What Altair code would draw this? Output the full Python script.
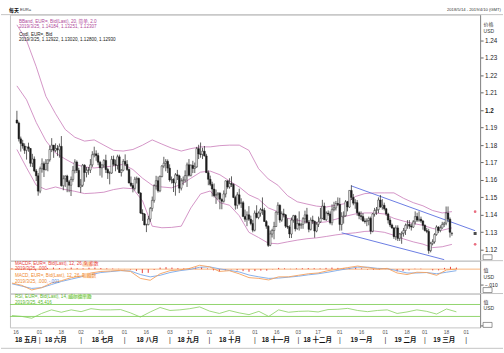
import altair as alt
import pandas as pd

FONT = "Liberation Sans, Noto Sans CJK SC, sans-serif"
W = 472
H_MAIN, H_MACD, H_RSI = 247, 33, 34
PAD_L, PAD_T, PAD_R, PAD_B = 9, 13, 23, 26

X_DOMAIN = [-1.01, 237.0]
MAIN_DOMAIN = [1.113714, 1.254857]
MACD_DOMAIN = [-0.015806, 0.005484]
RSI_DOMAIN = [-6.67, 106.67]

PINK = "#c97bb8"
PINK_TXT = "#b0479a"
CANDLE = "#1c1c1c"
CHAN = "#5b6fe0"
ORANGE = "#f5a15d"
SIGBLUE = "#7aa8e8"
RED = "#e8413c"
GREEN = "#86d05e"
GREEN_TXT = "#5cb82a"
FRAME = "#c4c4c4"

# ---------------- daily candles (business-day index from 2018-05-14) ----------------
opens = [1.1944, 1.1927, 1.1836, 1.1810, 1.1795, 1.1770, 1.1790, 1.1781, 1.1696, 1.1720,
         1.1652, 1.1624, 1.1536, 1.1665, 1.1693, 1.1659, 1.1695, 1.1716, 1.1775, 1.1800,
         1.1770, 1.1781, 1.1773, 1.1793, 1.1567, 1.1607, 1.1623, 1.1590, 1.1570, 1.1603,
         1.1655, 1.1703, 1.1655, 1.1560, 1.1570, 1.1685, 1.1643, 1.1656, 1.1657, 1.1687,
         1.1745, 1.1750, 1.1740, 1.1702, 1.1670, 1.1686, 1.1712, 1.1660, 1.1640, 1.1640,
         1.1718, 1.1690, 1.1684, 1.1733, 1.1643, 1.1656, 1.1707, 1.1690, 1.1660, 1.1583,
         1.1568, 1.1552, 1.1604, 1.1609, 1.1525, 1.1410, 1.1405, 1.1342, 1.1344, 1.1376,
         1.1437, 1.1483, 1.1567, 1.1596, 1.1538, 1.1620, 1.1680, 1.1696, 1.1707, 1.1668,
         1.1600, 1.1603, 1.1583, 1.1630, 1.1624, 1.1553, 1.1595, 1.1600, 1.1625, 1.1687,
         1.1627, 1.1684, 1.1666, 1.1675, 1.1780, 1.1749, 1.1747, 1.1765, 1.1738, 1.1642,
         1.1604, 1.1575, 1.1548, 1.1510, 1.1516, 1.1524, 1.1488, 1.1478, 1.1520, 1.1595,
         1.1560, 1.1580, 1.1575, 1.1500, 1.1455, 1.1515, 1.1465, 1.1470, 1.1390, 1.1375,
         1.1400, 1.1375, 1.1350, 1.1312, 1.1410, 1.1385, 1.1410, 1.1430, 1.1425, 1.1362,
         1.1335, 1.1225, 1.1290, 1.1310, 1.1333, 1.1415, 1.1455, 1.1370, 1.1406, 1.1400,
         1.1335, 1.1330, 1.1290, 1.1370, 1.1395, 1.1320, 1.1350, 1.1340, 1.1345, 1.1378,
         1.1400, 1.1357, 1.1317, 1.1370, 1.1363, 1.1307, 1.1346, 1.1360, 1.1380, 1.1450,
         1.1372, 1.1410, 1.1405, 1.1355, 1.1430, 1.1440, 1.1465, 1.1460, 1.1345, 1.1390,
         1.1395, 1.1475, 1.1445, 1.1540, 1.1500, 1.1467, 1.1470, 1.1412, 1.1395, 1.1390,
         1.1365, 1.1362, 1.1368, 1.1380, 1.1306, 1.1405, 1.1425, 1.1430, 1.1485, 1.1445,
         1.1455, 1.1435, 1.1405, 1.1370, 1.1342, 1.1325, 1.1275, 1.1325, 1.1265, 1.1290,
         1.1295, 1.1310, 1.1340, 1.1345, 1.1335, 1.1330, 1.1360, 1.1390, 1.1370, 1.1375,
         1.1365, 1.1340, 1.1310, 1.1305, 1.1195, 1.1235, 1.1245, 1.1287, 1.1330, 1.1310,
         1.1325, 1.1345, 1.1352, 1.1410, 1.1375, 1.12922]
highs = [1.1997, 1.1935, 1.1849, 1.1830, 1.1810, 1.1790, 1.1814, 1.1783, 1.1750, 1.1735,
         1.1663, 1.1640, 1.1677, 1.1724, 1.1706, 1.1720, 1.1716, 1.1797, 1.1840, 1.1800,
         1.1810, 1.1800, 1.1809, 1.1852, 1.1627, 1.1626, 1.1630, 1.1600, 1.1620, 1.1680,
         1.1719, 1.1712, 1.1670, 1.1605, 1.1692, 1.1690, 1.1674, 1.1674, 1.1720, 1.1765,
         1.1791, 1.1770, 1.1756, 1.1710, 1.1690, 1.1720, 1.1745, 1.1670, 1.1650, 1.1738,
         1.1740, 1.1717, 1.1745, 1.1745, 1.1662, 1.1720, 1.1747, 1.1714, 1.1665, 1.1620,
         1.1582, 1.1618, 1.1620, 1.1614, 1.1530, 1.1432, 1.1410, 1.1349, 1.1394, 1.1445,
         1.1505, 1.1575, 1.1624, 1.1620, 1.1626, 1.1685, 1.1733, 1.1720, 1.1718, 1.1690,
         1.1620, 1.1610, 1.1640, 1.1658, 1.1630, 1.1610, 1.1620, 1.1655, 1.1700, 1.1720,
         1.1690, 1.1710, 1.1700, 1.1790, 1.1802, 1.1815, 1.1785, 1.1795, 1.1750, 1.1655,
         1.1625, 1.1590, 1.1580, 1.1545, 1.1530, 1.1530, 1.1495, 1.1540, 1.1598, 1.1598,
         1.1610, 1.1621, 1.1580, 1.1510, 1.1530, 1.1550, 1.1495, 1.1480, 1.1430, 1.1420,
         1.1450, 1.1395, 1.1370, 1.1425, 1.1455, 1.1420, 1.1440, 1.1500, 1.1440, 1.1370,
         1.1340, 1.1310, 1.1320, 1.1360, 1.1420, 1.1472, 1.1460, 1.1420, 1.1435, 1.1405,
         1.1380, 1.1340, 1.1385, 1.1400, 1.1400, 1.1380, 1.1420, 1.1355, 1.1387, 1.1424,
         1.1440, 1.1370, 1.1385, 1.1395, 1.1367, 1.1360, 1.1390, 1.1440, 1.1486, 1.1470,
         1.1420, 1.1425, 1.1420, 1.1460, 1.1475, 1.1480, 1.1500, 1.1498, 1.1415, 1.1420,
         1.1485, 1.1480, 1.1540, 1.1570, 1.1520, 1.1490, 1.1485, 1.1420, 1.1420, 1.1410,
         1.1380, 1.1380, 1.1390, 1.1390, 1.1410, 1.1440, 1.1445, 1.1500, 1.1514, 1.1490,
         1.1470, 1.1440, 1.1412, 1.1385, 1.1350, 1.1330, 1.1340, 1.1340, 1.1295, 1.1305,
         1.1325, 1.1350, 1.1370, 1.1370, 1.1350, 1.1370, 1.1420, 1.1412, 1.1420, 1.1390,
         1.1370, 1.1345, 1.1325, 1.1320, 1.1245, 1.1260, 1.1295, 1.1340, 1.1335, 1.1340,
         1.1360, 1.1360, 1.1448, 1.1448, 1.1385, 1.13020]
lows = [1.1924, 1.1821, 1.1763, 1.1780, 1.1750, 1.1717, 1.1762, 1.1676, 1.1674, 1.1645,
        1.1594, 1.1510, 1.1524, 1.1642, 1.1617, 1.1655, 1.1650, 1.1705, 1.1760, 1.1727,
        1.1760, 1.1737, 1.1728, 1.1562, 1.1541, 1.1560, 1.1530, 1.1530, 1.1508, 1.1590,
        1.1638, 1.1640, 1.1560, 1.1527, 1.1560, 1.1590, 1.1615, 1.1630, 1.1640, 1.1675,
        1.1730, 1.1710, 1.1685, 1.1625, 1.1614, 1.1670, 1.1640, 1.1606, 1.1575, 1.1635,
        1.1680, 1.1650, 1.1660, 1.1640, 1.1620, 1.1650, 1.1680, 1.1652, 1.1580, 1.1560,
        1.1529, 1.1540, 1.1580, 1.1520, 1.1406, 1.1365, 1.1340, 1.1301, 1.1340, 1.1360,
        1.1420, 1.1470, 1.1545, 1.1528, 1.1530, 1.1615, 1.1668, 1.1650, 1.1640, 1.1590,
        1.1580, 1.1531, 1.1510, 1.1600, 1.1525, 1.1540, 1.1570, 1.1585, 1.1560, 1.1620,
        1.1620, 1.1640, 1.1640, 1.1670, 1.1720, 1.1728, 1.1720, 1.1735, 1.1640, 1.1570,
        1.1565, 1.1505, 1.1500, 1.1463, 1.1487, 1.1432, 1.1432, 1.1470, 1.1500, 1.1550,
        1.1550, 1.1560, 1.1496, 1.1430, 1.1435, 1.1455, 1.1440, 1.1390, 1.1360, 1.1335,
        1.1365, 1.1340, 1.1300, 1.1305, 1.1380, 1.1375, 1.1390, 1.1400, 1.1360, 1.1320,
        1.1216, 1.1220, 1.1270, 1.1260, 1.1330, 1.1400, 1.1355, 1.1360, 1.1385, 1.1325,
        1.1320, 1.1267, 1.1267, 1.1355, 1.1305, 1.1315, 1.1310, 1.1320, 1.1320, 1.1350,
        1.1350, 1.1300, 1.1310, 1.1347, 1.1269, 1.1300, 1.1330, 1.1355, 1.1375, 1.1370,
        1.1365, 1.1395, 1.1345, 1.1340, 1.1420, 1.1425, 1.1450, 1.1309, 1.1310, 1.1350,
        1.1390, 1.1420, 1.1440, 1.1485, 1.1455, 1.1435, 1.1395, 1.1375, 1.1370, 1.1360,
        1.1350, 1.1335, 1.1340, 1.1289, 1.1300, 1.1390, 1.1400, 1.1410, 1.1440, 1.1430,
        1.1425, 1.1395, 1.1350, 1.1330, 1.1320, 1.1262, 1.1255, 1.1250, 1.1250, 1.1234,
        1.1275, 1.1285, 1.1320, 1.1320, 1.1310, 1.1325, 1.1345, 1.1360, 1.1360, 1.1355,
        1.1315, 1.1305, 1.1295, 1.1177, 1.1185, 1.1225, 1.1235, 1.1280, 1.1295, 1.1300,
        1.1320, 1.1330, 1.1340, 1.1360, 1.1270, 1.12800]
closes = [1.1927, 1.1836, 1.1810, 1.1795, 1.1770, 1.1790, 1.1781, 1.1696, 1.1720, 1.1652,
          1.1624, 1.1536, 1.1665, 1.1693, 1.1659, 1.1695, 1.1716, 1.1775, 1.1800, 1.1770,
          1.1781, 1.1773, 1.1793, 1.1567, 1.1607, 1.1623, 1.1590, 1.1570, 1.1603, 1.1655,
          1.1703, 1.1655, 1.1560, 1.1570, 1.1685, 1.1643, 1.1656, 1.1657, 1.1687, 1.1745,
          1.1750, 1.1740, 1.1702, 1.1670, 1.1686, 1.1712, 1.1660, 1.1640, 1.1640, 1.1718,
          1.1690, 1.1684, 1.1733, 1.1643, 1.1656, 1.1707, 1.1690, 1.1660, 1.1583, 1.1568,
          1.1552, 1.1604, 1.1609, 1.1525, 1.1410, 1.1405, 1.1342, 1.1344, 1.1376, 1.1437,
          1.1483, 1.1567, 1.1596, 1.1538, 1.1620, 1.1680, 1.1696, 1.1707, 1.1668, 1.1600,
          1.1603, 1.1583, 1.1630, 1.1624, 1.1553, 1.1595, 1.1600, 1.1625, 1.1687, 1.1627,
          1.1684, 1.1666, 1.1675, 1.1780, 1.1749, 1.1747, 1.1765, 1.1738, 1.1642, 1.1604,
          1.1575, 1.1548, 1.1510, 1.1516, 1.1524, 1.1490, 1.1478, 1.1520, 1.1595, 1.1560,
          1.1580, 1.1575, 1.1500, 1.1455, 1.1515, 1.1465, 1.1470, 1.1390, 1.1375, 1.1400,
          1.1375, 1.1350, 1.1312, 1.1410, 1.1385, 1.1410, 1.1430, 1.1425, 1.1362, 1.1335,
          1.1225, 1.1290, 1.1310, 1.1333, 1.1415, 1.1455, 1.1370, 1.1406, 1.1400, 1.1335,
          1.1330, 1.1290, 1.1370, 1.1395, 1.1320, 1.1350, 1.1340, 1.1345, 1.1378, 1.1400,
          1.1357, 1.1317, 1.1370, 1.1363, 1.1307, 1.1346, 1.1360, 1.1380, 1.1450, 1.1372,
          1.1410, 1.1405, 1.1355, 1.1430, 1.1440, 1.1465, 1.1460, 1.1345, 1.1390, 1.1395,
          1.1475, 1.1445, 1.1540, 1.1500, 1.1467, 1.1470, 1.1412, 1.1395, 1.1390, 1.1365,
          1.1362, 1.1368, 1.1380, 1.1306, 1.1405, 1.1425, 1.1430, 1.1485, 1.1445, 1.1455,
          1.1435, 1.1405, 1.1370, 1.1342, 1.1325, 1.1275, 1.1325, 1.1265, 1.1290, 1.1295,
          1.1310, 1.1340, 1.1345, 1.1335, 1.1330, 1.1360, 1.1390, 1.1370, 1.1375, 1.1365,
          1.1340, 1.1310, 1.1305, 1.1195, 1.1235, 1.1245, 1.1287, 1.1330, 1.1310, 1.1325,
          1.1345, 1.1352, 1.1410, 1.1375, 1.1300, 1.12930]

# ---------------- Bollinger bands, read every 5 trading days ----------------
bb_idx = list(range(0, 226, 5))
bb_upper = [1.2490, 1.2400, 1.2250, 1.2080, 1.1980, 1.1890, 1.1845, 1.1823, 1.1830, 1.1800,
            1.1770, 1.1766, 1.1775, 1.1800, 1.1830, 1.1806, 1.1783, 1.1766, 1.1780, 1.1790,
            1.1790, 1.1797, 1.1800, 1.1800, 1.1770, 1.1665, 1.1606, 1.1570, 1.1510, 1.1475,
            1.1462, 1.1450, 1.1445, 1.1455, 1.1465, 1.1505, 1.1522, 1.1526, 1.1526, 1.1526,
            1.1495, 1.1470, 1.1452, 1.1425, 1.1411, 1.14184]
bb_mid = [1.2140, 1.2060, 1.1930, 1.1825, 1.1755, 1.1720, 1.1690, 1.1675, 1.1669, 1.1675,
          1.1680, 1.1690, 1.1660, 1.1610, 1.1570, 1.1560, 1.1555, 1.1575, 1.1610, 1.1645,
          1.1651, 1.1630, 1.1594, 1.1560, 1.1515, 1.1490, 1.1440, 1.1418, 1.1380, 1.1370,
          1.1357, 1.1354, 1.1360, 1.1375, 1.1392, 1.1405, 1.1411, 1.1411, 1.1405, 1.1380,
          1.1364, 1.1350, 1.1340, 1.1322, 1.1312, 1.13251]
bb_lower = [1.1775, 1.1670, 1.1570, 1.1545, 1.1560, 1.1545, 1.1535, 1.1522, 1.1525, 1.1530,
            1.1545, 1.1554, 1.1550, 1.1480, 1.1335, 1.1326, 1.1328, 1.1335, 1.1440, 1.1520,
            1.1537, 1.1470, 1.1455, 1.1395, 1.1300, 1.1270, 1.1238, 1.1234, 1.1245, 1.1255,
            1.1263, 1.1268, 1.1276, 1.1285, 1.1292, 1.1297, 1.1305, 1.1307, 1.1300, 1.1283,
            1.1262, 1.1245, 1.1232, 1.1212, 1.1217, 1.12307]

# trend channel (start / end index and price)
chan_name = ["upper", "upper", "lower", "lower"]
chan_idx = [173, 237, 168, 221]
chan_val = [1.1566, 1.1309, 1.1297, 1.1143]

# last-value markers on the price axis
mark_val_bb = [1.14184, 1.12307]
mark_val_close = [1.12930]

# ---------------- MACD (12,26,9), read every 5 trading days ----------------
m_idx = list(range(0, 226, 5))
macd_vals = [-0.0090, -0.0105, -0.0135, -0.0120, -0.0090, -0.0075, -0.0055, -0.0045, -0.0025, -0.0015,
             -0.0012, -0.0008, -0.0015, -0.0060, -0.0072, -0.0030, -0.0010, -0.0005, 0.0005, 0.0025,
             0.0015, -0.0015, -0.0010, -0.0030, -0.0055, -0.0060, -0.0070, -0.0050, -0.0050, -0.0040,
             -0.0030, -0.0025, -0.0010, 0.0000, 0.0010, 0.0020, 0.0010, 0.0000, 0.0005, -0.0025,
             -0.0035, -0.0020, -0.0022, -0.0040, -0.0005, 0.0000]
signal_vals = [-0.0095, -0.0110, -0.0125, -0.0120, -0.0100, -0.0080, -0.0065, -0.0050, -0.0035, -0.0022,
               -0.0016, -0.0010, -0.0012, -0.0035, -0.0050, -0.0040, -0.0022, -0.0010, -0.0002, 0.0012,
               0.0015, 0.0002, -0.0008, -0.0018, -0.0038, -0.0050, -0.0060, -0.0058, -0.0052, -0.0046,
               -0.0037, -0.0030, -0.0020, -0.0008, 0.0003, 0.0013, 0.0013, 0.0005, 0.0003, -0.0010,
               -0.0025, -0.0025, -0.0022, -0.0030, -0.0020, -0.0010]
h_idx = list(range(0, 226, 3))
hist_vals = [0.0005, 0.0004, 0.0002, -0.0008, -0.0008, 0.0000, 0.0006, 0.0010, 0.0007, 0.0005,
             0.0010, 0.0006, 0.0005, 0.0009, 0.0010, 0.0007, 0.0005, 0.0004, 0.0002, 0.0001,
             -0.0003, -0.0012, -0.0026, -0.0024, -0.0005, 0.0010, 0.0013, 0.0010, 0.0006, 0.0005,
             0.0007, 0.0011, 0.0013, 0.0004, -0.0008, -0.0017, -0.0008, -0.0002, -0.0008, -0.0013,
             -0.0017, -0.0012, -0.0010, -0.0010, -0.0002, 0.0008, 0.0005, 0.0002, 0.0005, 0.0006,
             0.0007, 0.0006, 0.0005, 0.0008, 0.0010, 0.0008, 0.0007, 0.0007, 0.0008, 0.0005,
             -0.0003, -0.0004, -0.0003, 0.0002, -0.0005, -0.0015, -0.0012, -0.0008, 0.0003, 0.0003,
             0.0000, -0.0008, -0.0008, 0.0008, 0.0015, 0.0010]

# ---------------- RSI (14), read every 5 trading days ----------------
r_idx = list(range(0, 226, 5))
rsi_vals = [33, 30, 24, 40, 52, 44, 52, 46, 56, 52,
            52, 53, 42, 28, 45, 60, 50, 52, 56, 62,
            48, 40, 50, 42, 36, 47, 30, 52, 44, 47,
            48, 45, 53, 54, 57, 50, 46, 50, 52, 40,
            45, 52, 47, 38, 55, 45.416]
rsi_levels = [70, 30]

# ---------------- time axis labels ----------------
day_idx = [2, 14, 25, 35, 45, 57, 68, 80, 90, 100, 111, 123, 134, 145, 155, 166, 177, 189, 200, 209, 220, 230]
day_lbl = ["16", "01", "18", "02", "16", "01", "16", "03", "17", "01", "16", "01", "16", "03", "17", "01",
           "16", "01", "18", "01", "18", "01"]
month_mid = [7.1, 22.2, 45.9, 68.6, 89.3, 110.4, 133.6, 154.8, 177.0, 199.2, 218.9]
month_lbl = ["18 五月", "18 六月", "18 七月", "18 八月", "18 九月", "18 十月", "18 十一月", "18 十二月",
             "19 一月", "19 二月", "19 三月"]
sep_idx = [14, 35, 57, 80, 100, 123, 145, 166, 189, 209, 230]

price_ticks = [1.12, 1.13, 1.14, 1.15, 1.16, 1.17, 1.18, 1.19, 1.20, 1.21, 1.22, 1.23, 1.24]


# ---------------- helpers ----------------
def xq(field="i"):
    return alt.X(f"{field}:Q", scale=alt.Scale(domain=X_DOMAIN, nice=False, zero=False), axis=None)


def axis_common(**kw):
    base = dict(orient="right", grid=False, tickSize=3, tickColor="#666", domainColor="#888",
                labelFont=FONT, labelFontSize=6.3, labelColor="#222", labelPadding=1.5,
                titleAngle=0, titleAlign="left", titleBaseline="top", titleX=3,
                titleFont=FONT, titleFontSize=5, titleFontWeight="normal", titleColor="#333",
                titleLineHeight=6.5)
    base.update(kw)
    return alt.Axis(**base)


AX_MAIN = axis_common(values=price_ticks, format=".3~g", title=["价格", "USD"], titleY=7,
                      labelFontWeight={"expr": "abs(datum.value - 1.2) < 0.0005 ? 'bold' : 'normal'"})
AX_MACD = axis_common(values=[-0.01], labelExpr="replace(format(datum.value, '.3f'), '0.', '.')",
                      labelFontSize=5, title=["值", "USD"], titleY=7)
AX_RSI = axis_common(values=[0], labelExpr="''", title=["值", "USD"], titleY=6)


def ymain(field):
    return alt.Y(f"{field}:Q", scale=alt.Scale(domain=MAIN_DOMAIN, nice=False, zero=False), axis=AX_MAIN)


def ymacd(field):
    return alt.Y(f"{field}:Q", scale=alt.Scale(domain=MACD_DOMAIN, nice=False, zero=False), axis=AX_MACD)


def yrsi(field):
    return alt.Y(f"{field}:Q", scale=alt.Scale(domain=RSI_DOMAIN, nice=False, zero=False), axis=AX_RSI)


def label(text, x, y, color, size=4.6, weight="normal", align="left"):
    return alt.Chart(pd.DataFrame({"t": [text]})).mark_text(
        align=align, baseline="middle", font=FONT, fontSize=size, fontWeight=weight, color=color
    ).encode(text="t:N", x=alt.value(x), y=alt.value(y))


def box(x0, x1, y0, y1, fill, stroke=None):
    kw = dict(fill=fill)
    if stroke:
        kw.update(stroke=stroke, strokeWidth=0.6)
    return alt.Chart(pd.DataFrame({"a": [0]})).mark_rect(**kw).encode(
        x=alt.value(x0), x2=alt.value(x1), y=alt.value(y0), y2=alt.value(y1))


def hline(x0, x1, y, color=FRAME):
    return alt.Chart(pd.DataFrame({"a": [0]})).mark_rule(color=color, strokeWidth=1).encode(
        x=alt.value(x0), x2=alt.value(x1), y=alt.value(y))


def frame(y0, y1):
    # invisible box that fixes the overall bounds of the figure
    return alt.Chart(pd.DataFrame({"a": [0]})).mark_rect(opacity=0).encode(
        x=alt.value(-PAD_L), x2=alt.value(W + PAD_R), y=alt.value(y0), y2=alt.value(y1))


# ---------------- main price panel ----------------
cdf = pd.DataFrame({"i": list(range(len(closes))), "o": opens, "h": highs, "l": lows, "c": closes})
n_bb = len(bb_idx)
bb_df = pd.DataFrame({"i": bb_idx * 3, "v": bb_upper + bb_mid + bb_lower,
                      "band": ["upper"] * n_bb + ["mid"] * n_bb + ["lower"] * n_bb})
chan_df = pd.DataFrame({"name": chan_name, "i": chan_idx, "v": chan_val})
mk_bb = pd.DataFrame({"i": [X_DOMAIN[1]] * len(mark_val_bb), "v": mark_val_bb})
mk_cl = pd.DataFrame({"i": [X_DOMAIN[1]] * len(mark_val_close), "v": mark_val_close})

bands = alt.Chart(bb_df).mark_line(color=PINK, strokeWidth=0.8).encode(x=xq(), y=ymain("v"), detail="band:N")
channel = alt.Chart(chan_df).mark_line(color=CHAN, strokeWidth=0.9, clip=True).encode(
    x=xq(), y=ymain("v"), detail="name:N")
wicks = alt.Chart(cdf).mark_rule(color=CANDLE, strokeWidth=0.7).encode(x=xq(), y=ymain("l"), y2="h:Q")
bodies = alt.Chart(cdf).mark_bar(width=1.7, stroke=CANDLE, strokeWidth=0.45).encode(
    x=xq(), y=ymain("o"), y2="c:Q",
    color=alt.condition("datum.c >= datum.o", alt.value("#f2f2f2"), alt.value(CANDLE)))
m1 = alt.Chart(mk_bb).mark_point(filled=True, size=7, color="#e0304a", shape="circle").encode(x=xq(), y=ymain("v"))
m2 = alt.Chart(mk_cl).mark_point(filled=True, size=9, color="#000", shape="square").encode(x=xq(), y=ymain("v"))

main = alt.layer(
    frame(-PAD_T, H_MAIN),
    hline(-PAD_L, W + PAD_R, 0),
    bands, channel, wicks, bodies, m1, m2,
    box(W + 3, W + 12, H_MAIN - 6, H_MAIN - 1, "#ffffff", "#555"),
    label("每天", -1, -5, "#111", 5, "bold"),
    label("EUR=", 10, -5, "#333", 4.2),
    label("2018/5/14 - 2019/4/10 (GMT)", 493, -5, "#333", 4.2, align="right"),
    label("BBand, EUR=, Bid(Last), 20, 简单, 2.0", 9, 7, PINK_TXT),
    label("2019/3/25, 1.14184, 1.13251, 1.12307", 9, 12.5, PINK_TXT),
    label("Cndl, EUR=, Bid", 9, 20, "#222"),
    label("2019/3/25, 1.12922, 1.13020, 1.12800, 1.12930", 9, 25.5, "#222"),
).properties(width=W, height=H_MAIN)

# ---------------- MACD panel ----------------
macd_df = pd.DataFrame({"i": m_idx, "macd": macd_vals, "sig": signal_vals})
hist_df = pd.DataFrame({"i": h_idx, "h": hist_vals, "zero": [0.0] * len(h_idx)})
zero_df = pd.DataFrame({"z": [0.0]})

macd = alt.layer(
    hline(W, W + PAD_R, 0),
    alt.Chart(zero_df).mark_rule(color=ORANGE, strokeWidth=0.8).encode(y=ymacd("z")),
    alt.Chart(hist_df).mark_rule(color=RED, strokeWidth=1.0).encode(x=xq(), y=ymacd("h"), y2="zero:Q"),
    alt.Chart(macd_df).mark_line(color=SIGBLUE, strokeWidth=0.9).encode(x=xq(), y=ymacd("sig")),
    alt.Chart(macd_df).mark_line(color=ORANGE, strokeWidth=0.9).encode(x=xq(), y=ymacd("macd")),
    box(73, 82, 1, 6, "#fbd3b0"),
    box(73, 82, 12.5, 17.5, "#fbd3b0"),
    box(W + 3, W + 12, H_MACD - 6, H_MACD - 1, "#ffffff", "#555"),
    label("MACDF, EUR=, Bid(Last), 12, 26, 9, 指数", 5, 3.5, RED),
    label("2019/3/25, .000", 5, 8.5, RED),
    label("MACD, EUR=, Bid(Last), 12, 26, 9, 指数", 5, 15, "#f08a30"),
    label("2019/3/25, .000,", 5, 21, "#f08a30"),
    label("-.001", 39, 21, "#5a8ee0"),
).properties(width=W, height=H_MACD)

# ---------------- RSI panel ----------------
rsi_df = pd.DataFrame({"i": r_idx, "r": rsi_vals})
lvl_df = pd.DataFrame({"lv": rsi_levels})
day_df = pd.DataFrame({"i": day_idx, "t": day_lbl})
mon_df = pd.DataFrame({"i": month_mid, "t": month_lbl})
sep_df = pd.DataFrame({"i": sep_idx, "t": ["|"] * len(sep_idx)})

rsi = alt.layer(
    frame(0, H_RSI + PAD_B),
    hline(W, W + PAD_R, 0),
    hline(-PAD_L, W + PAD_R, H_RSI + 21),
    alt.Chart(lvl_df).mark_rule(color=GREEN, strokeWidth=0.9).encode(y=yrsi("lv")),
    alt.Chart(rsi_df).mark_line(color=GREEN, strokeWidth=0.8).encode(x=xq(), y=yrsi("r")),
    alt.Chart(day_df).mark_text(font=FONT, fontSize=5, color="#555", baseline="middle").encode(
        x=xq(), y=alt.value(H_RSI + 5), text="t:N"),
    alt.Chart(mon_df).mark_text(font=FONT, fontSize=6.5, fontWeight="bold", color="#111", baseline="middle").encode(
        x=xq(), y=alt.value(H_RSI + 12.5), text="t:N"),
    alt.Chart(sep_df).mark_text(font=FONT, fontSize=7, color="#333", baseline="middle").encode(
        x=xq(), y=alt.value(H_RSI + 12.5), text="t:N"),
    box(58, 82, 0.5, 5.5, "#d9f2c8"),
    box(W + 3, W + 12, H_RSI - 5, H_RSI, "#ffffff", "#555"),
    label("RSI, EUR=, Bid(Last), 14, 威尔德平滑", 5, 3, GREEN_TXT),
    label("2019/3/25, 45.416", 5, 9, GREEN_TXT),
).properties(width=W, height=H_RSI)

chart = alt.vconcat(main, macd, rsi, spacing=0, bounds="flush").properties(
    padding=0,
    autosize=alt.AutoSizeParams(type="pad"),
    background="white",
).configure_view(stroke=FRAME, strokeWidth=1)

chart.save("out.html", embed_options={"renderer": "svg", "actions": False})
